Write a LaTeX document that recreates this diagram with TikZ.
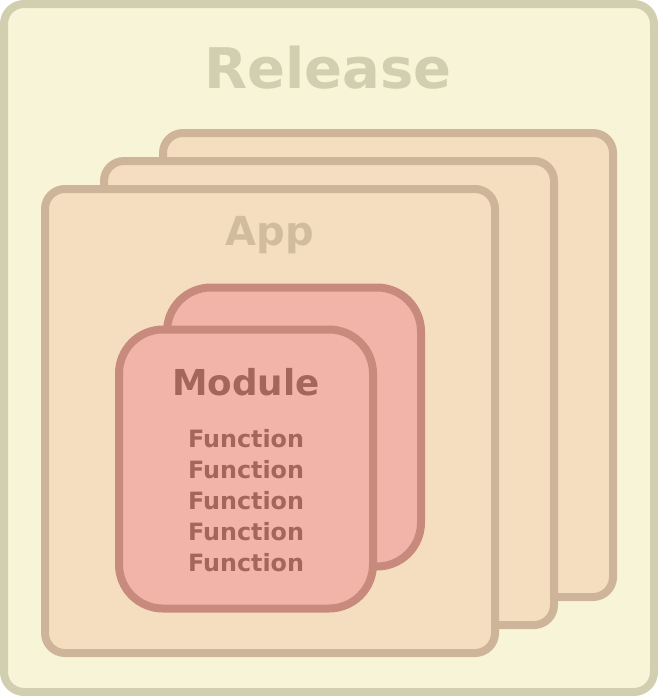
\documentclass[tikz,border=0pt]{standalone}
\usepackage{fontspec}
\setmainfont{DejaVu Sans}
\definecolor{relfill}{HTML}{F8F4D8}
\definecolor{reldraw}{HTML}{D2CEB0}
\definecolor{appfill}{HTML}{F5DEC0}
\definecolor{appdraw}{HTML}{CEB59A}
\definecolor{apptext}{HTML}{D2BC9E}
\definecolor{modfill}{HTML}{F2B4A9}
\definecolor{moddraw}{HTML}{C98A7E}
\definecolor{modtext}{HTML}{A3665B}
\tikzset{
  relbox/.style={draw=reldraw, fill=relfill, line width=8pt, rounded corners=20pt,
    minimum width=650pt, minimum height=688pt, inner sep=0pt},
  appbox/.style={draw=appdraw, fill=appfill, line width=8pt, rounded corners=20pt,
    minimum width=450pt, minimum height=464pt, inner sep=0pt},
  modbox/.style={draw=moddraw, fill=modfill, line width=8pt, rounded corners=44pt,
    minimum width=254pt, minimum height=279pt, inner sep=0pt}
}
\begin{document}
\begin{tikzpicture}[x=1pt,y=-1pt]
    \useasboundingbox (0,0) rectangle (658,696);
    %% Draw the release
    \node[relbox] (R) at (329,348) {};
    \node[anchor=base, text=reldraw, font=\bfseries\fontsize{56}{60}\selectfont] (RT) at (328,88) {Release};
    %% Draw the apps
    \node[appbox] (A3) at (388,365) {};
    \node[appbox] (A2) at (329,393) {};
    \node[appbox] (A1) at (270,421) {};
    \node[anchor=base, text=apptext, font=\bfseries\fontsize{40}{44}\selectfont] (AT) at (270,245) {App};
    %% Draw the modules
    \node[modbox] (M2) at (294,427) {};
    \node[modbox] (M1) at (246,469) {};
    \node[anchor=base, text=modtext, font=\bfseries\fontsize{35.7}{40}\selectfont] (MT) at (246,395) {Module};
    %% Draw the functions
    \node[anchor=base, text=modtext, align=center, inner sep=0pt,
      font=\bfseries\fontsize{23.8}{31}\selectfont] (F) at (246,571)
      {Function\\Function\\Function\\Function\\Function};
\end{tikzpicture}
\end{document}
